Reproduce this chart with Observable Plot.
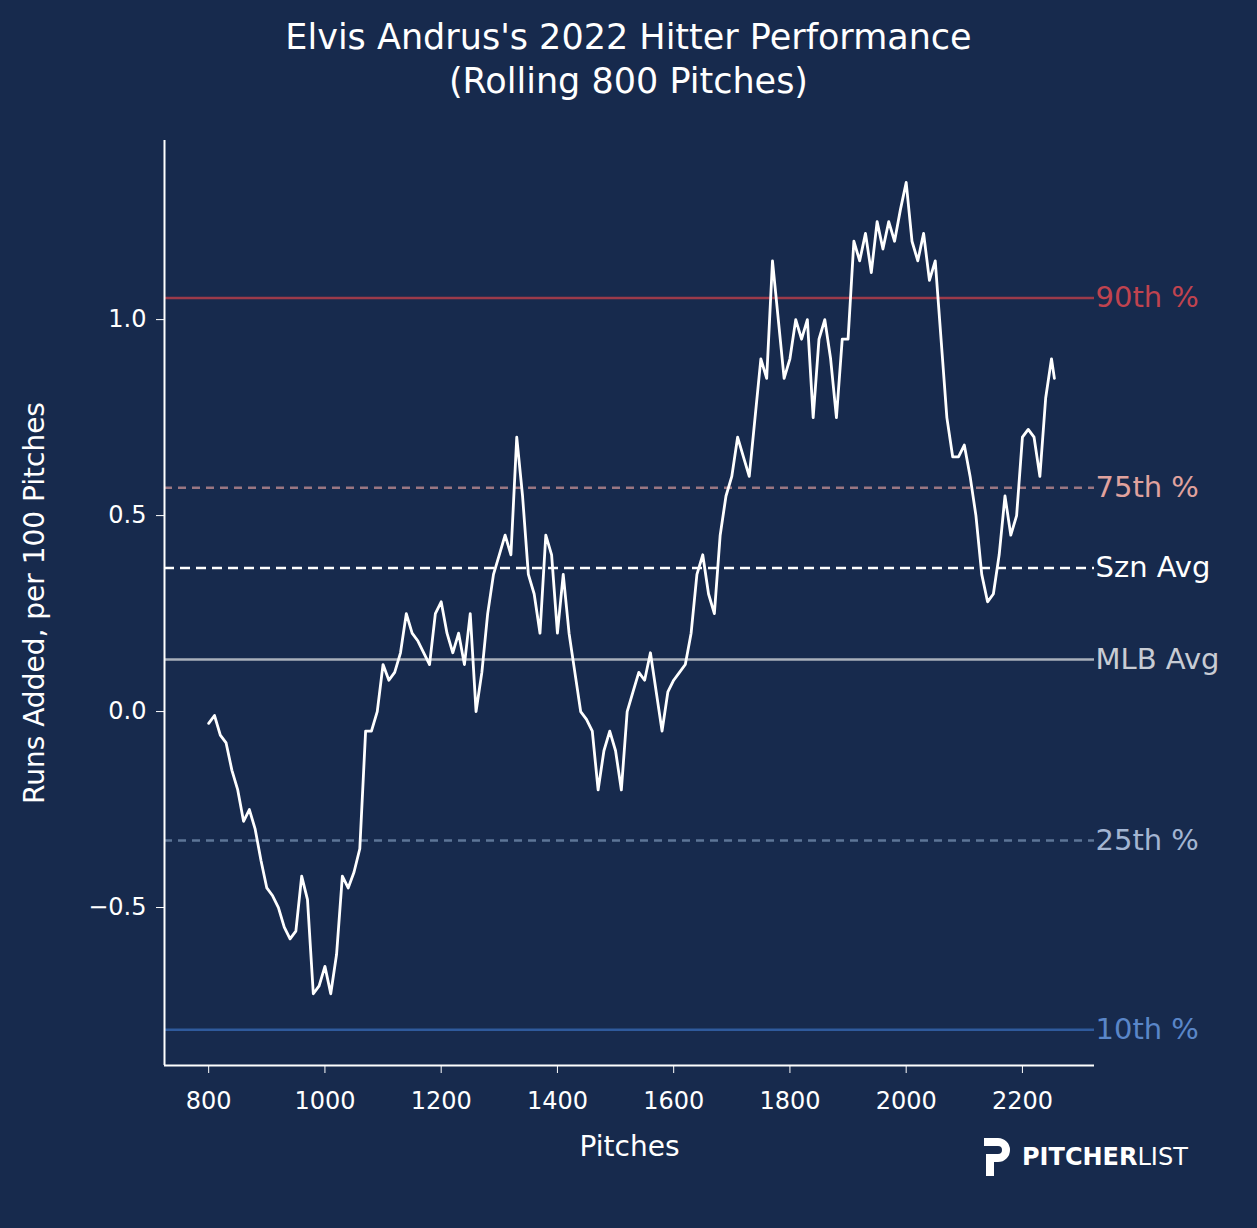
<!DOCTYPE html>
<html><head><meta charset="utf-8">
<script src="https://cdn.jsdelivr.net/npm/d3@7"></script>
<script src="https://cdn.jsdelivr.net/npm/@observablehq/plot@0.6"></script>
<style>
body{margin:0;background:#172a4d;width:1257px;height:1228px;overflow:hidden;font-family:"DejaVu Sans",sans-serif;position:relative}
#title{height:120px;color:#fff;text-align:center;font-size:35px;line-height:44px;padding-top:15px;box-sizing:border-box}
#logo{position:absolute;left:982px;top:1136px;color:#fff;font-size:24px;display:flex;align-items:center;gap:10px}
</style></head><body>
<div id="title">Elvis Andrus's 2022 Hitter Performance<br>(Rolling 800 Pitches)</div>
<div id="chart"></div>
<div id="logo"><svg width="30" height="42" viewBox="0 0 30 42"><path d="M2 2 H16 A12 12 0 0 1 16 26 H12 V40 H4 V18 H16 A4 4 0 0 0 16 10 H2 Z" fill="#fff"/></svg><span><b>PITCHER</b>LIST</span></div>
<script>
const pitches = [800,810,820,830,840,850,860,870,880,890,900,910,920,930,940,950,960,970,980,990,1000,1010,1020,1030,1040,1050,1060,1070,1080,1090,1100,1110,1120,1130,1140,1150,1160,1170,1180,1190,1200,1210,1220,1230,1240,1250,1260,1270,1280,1290,1300,1310,1320,1330,1340,1350,1360,1370,1380,1390,1400,1410,1420,1430,1440,1450,1460,1470,1480,1490,1500,1510,1520,1530,1540,1550,1560,1570,1580,1590,1600,1610,1620,1630,1640,1650,1660,1670,1680,1690,1700,1710,1720,1730,1740,1750,1760,1770,1780,1790,1800,1810,1820,1830,1840,1850,1860,1870,1880,1890,1900,1910,1920,1930,1940,1950,1960,1970,1980,1990,2000,2010,2020,2030,2040,2050,2060,2070,2080,2090,2100,2110,2120,2130,2140,2150,2160,2170,2180,2190,2200,2210,2220,2230,2240,2250,2255];
const runs = [-0.03,-0.01,-0.06,-0.08,-0.15,-0.2,-0.28,-0.25,-0.3,-0.38,-0.45,-0.47,-0.5,-0.55,-0.58,-0.56,-0.42,-0.48,-0.72,-0.7,-0.65,-0.72,-0.62,-0.42,-0.45,-0.41,-0.35,-0.05,-0.05,0.0,0.12,0.08,0.1,0.15,0.25,0.2,0.18,0.15,0.12,0.25,0.28,0.2,0.15,0.2,0.12,0.25,0.0,0.1,0.25,0.35,0.4,0.45,0.4,0.7,0.55,0.35,0.3,0.2,0.45,0.4,0.2,0.35,0.2,0.1,0.0,-0.02,-0.05,-0.2,-0.1,-0.05,-0.1,-0.2,0.0,0.05,0.1,0.08,0.15,0.05,-0.05,0.05,0.08,0.1,0.12,0.2,0.35,0.4,0.3,0.25,0.45,0.55,0.6,0.7,0.65,0.6,0.75,0.9,0.85,1.15,1.0,0.85,0.9,1.0,0.95,1.0,0.75,0.95,1.0,0.9,0.75,0.95,0.95,1.2,1.15,1.22,1.12,1.25,1.18,1.25,1.2,1.28,1.35,1.2,1.15,1.22,1.1,1.15,0.95,0.75,0.65,0.65,0.68,0.6,0.5,0.35,0.28,0.3,0.4,0.55,0.45,0.5,0.7,0.72,0.7,0.6,0.8,0.9,0.85];
const refLabels = ["90th %","75th %","Szn Avg","MLB Avg","25th %","10th %"];
const refValues = [1.055,0.571,0.366,0.133,-0.329,-0.812];
const refLine = ["#9b3a4a","#9a7682","#ffffff","#aab0bb","#5d7597","#2f5a9c"];
const refText = ["#c0434f","#e0a29e","#ffffff","#c8ccd4","#a3b5d2","#5a86c8"];
const refDash = [null,"8,6","10,6",null,"8,6",null];
const xTicks = [800,1000,1200,1400,1600,1800,2000,2200];
const yTicks = [-0.5,0,0.5,1.0];

const xMin=724, xMax=2324, yMin=-0.903, yMax=1.457;
const refs = refLabels.map((l,i)=>({l,v:refValues[i],c:refLine[i],t:refText[i],d:refDash[i]}));
const data = pitches.map((p,i)=>({p,r:runs[i]}));
const plot = Plot.plot({
  width:1257, height:1108, marginTop:20, marginBottom:163, marginLeft:164, marginRight:163,
  style:{background:"transparent",color:"#fff",fontSize:"24px",fontFamily:"DejaVu Sans"},
  x:{domain:[xMin,xMax], ticks:xTicks, tickFormat:d3.format("d"), tickSize:8, tickPadding:18, label:"Pitches", labelArrow:"none", labelAnchor:"center", labelOffset:90},
  y:{domain:[yMin,yMax], ticks:yTicks, tickFormat:d3.format(".1f"), tickSize:8, tickPadding:10, label:"Runs Added, per 100 Pitches", labelArrow:"none", labelAnchor:"center", labelOffset:140},
  marks:[
    ...refs.map(r=>Plot.ruleY([r.v],{x1:xMin,x2:xMax,stroke:r.c,strokeWidth:2.5,strokeDasharray:r.d})),
    Plot.line(data,{x:"p",y:"r",stroke:"#fff",strokeWidth:2.8}),
    Plot.text(refs,{x:xMax,y:"v",text:"l",fill:"t",textAnchor:"start",dx:1,fontSize:29}),
    Plot.ruleX([xMin],{stroke:"#fff",strokeWidth:2}),
    Plot.ruleY([yMin],{stroke:"#fff",strokeWidth:2})
  ]
});
plot.querySelectorAll('g[aria-label="x-axis label"] text, g[aria-label="y-axis label"] text').forEach(t=>t.style.fontSize="28px");
document.getElementById("chart").appendChild(plot);
</script></body></html>
